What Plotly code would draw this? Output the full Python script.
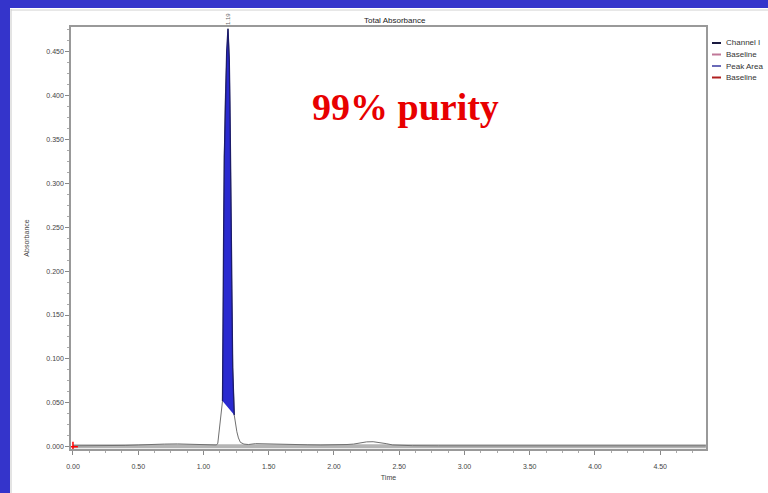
import plotly.graph_objects as go

# Chromatogram trace (time in minutes, absorbance)
time = [0.00, 0.10, 0.20, 0.30, 0.40, 0.50, 0.60, 0.70, 0.80, 0.90, 1.00, 1.05,
        1.100, 1.110, 1.120, 1.130, 1.140, 1.146, 1.151, 1.155, 1.160, 1.168,
        1.178, 1.188, 1.198, 1.203, 1.210, 1.216, 1.224, 1.236, 1.245, 1.256,
        1.268, 1.283, 1.310, 1.345, 1.40, 1.50, 1.60, 1.70, 1.80, 1.90, 2.00,
        2.10, 2.15, 2.20, 2.25, 2.30, 2.35, 2.40, 2.45, 2.50, 2.60, 2.80,
        3.00, 3.50, 4.00, 4.50, 4.85]
absorbance = [0.0010, 0.0010, 0.0012, 0.0012, 0.0015, 0.0020, 0.0028, 0.0030,
              0.0032, 0.0030, 0.0025, 0.0020,
              0.002, 0.004, 0.016, 0.028, 0.040, 0.052, 0.120, 0.250, 0.330,
              0.400, 0.450, 0.476, 0.440, 0.390, 0.280, 0.180, 0.090, 0.036,
              0.026, 0.017, 0.010, 0.005, 0.003, 0.0025,
              0.0035, 0.0030, 0.0028, 0.0025, 0.0022, 0.0020, 0.0020, 0.0025,
              0.0030, 0.0045, 0.0055, 0.0057, 0.0050, 0.0035, 0.0020, 0.0015,
              0.0012, 0.0010, 0.0010, 0.0010, 0.0010, 0.0010, 0.0010]

# Integrated peak limits
peak_start = 1.146
peak_end = 1.236
peak_apex = 1.188

baseline_time = [0.00, 4.85]
baseline_abs = [0.0005, 0.0005]

x_ticks = [0.0, 0.5, 1.0, 1.5, 2.0, 2.5, 3.0, 3.5, 4.0, 4.5]
y_ticks = [0.000, 0.050, 0.100, 0.150, 0.200, 0.250, 0.300, 0.350, 0.400, 0.450]

legend_names = ["Channel I", "Baseline", "Peak Area", "Baseline"]
legend_colors = ["#1a1a40", "#c07898", "#6a6ab8", "#b02020"]

peak_t = [t for t in time if peak_start <= t <= peak_end]
peak_a = [a for t, a in zip(time, absorbance) if peak_start <= t <= peak_end]

fig = go.Figure()

fig.add_trace(go.Scatter(x=baseline_time, y=baseline_abs, mode="lines",
                         line=dict(color="#b4b4b4", width=4), hoverinfo="skip"))
fig.add_trace(go.Scatter(x=time, y=absorbance, mode="lines",
                         line=dict(color="#707070", width=1)))
fig.add_trace(go.Scatter(x=peak_t, y=peak_a, mode="lines", fill="toself",
                         fillcolor="#2a2ad0", line=dict(color="#1c1c6a", width=1.3)))
fig.add_trace(go.Scatter(x=[0], y=[0], mode="markers",
                         marker=dict(symbol="cross-thin", size=7,
                                     line=dict(color="red", width=1.5))))

# Blue frame strips and panel border
fig.add_shape(type="rect", xref="paper", yref="paper", x0=-0.2, x1=(10 - 71) / 635,
              y0=-0.2, y1=1.2, fillcolor="#3434cb", line_width=0, layer="below")
fig.add_shape(type="rect", xref="paper", yref="paper", x0=-0.2, x1=1.2,
              y0=(449 - 8) / 422, y1=1.2, fillcolor="#3434cb", line_width=0, layer="below")
fig.add_shape(type="line", xref="paper", yref="paper", x0=(11 - 71) / 635, x1=(11 - 71) / 635,
              y0=-0.2, y1=(449 - 9) / 422, line=dict(color="#c8c8c8", width=1))
fig.add_shape(type="line", xref="paper", yref="paper", x0=(11 - 71) / 635, x1=1.2,
              y0=(449 - 10) / 422, y1=(449 - 10) / 422, line=dict(color="#d0d0d0", width=1))

annotations = [
    dict(text="Total Absorbance", x=0.510, y=(449 - 20) / 422, xref="paper", yref="paper",
         xanchor="center", yanchor="middle", showarrow=False,
         font=dict(family="Liberation Sans", size=8, color="#222")),
    dict(text="<b>99% purity</b>", x=0.526, y=(449 - 107) / 422, xref="paper", yref="paper",
         xanchor="center", yanchor="middle", showarrow=False,
         font=dict(family="Liberation Serif", size=38, color="#e80000")),
    dict(text="%.2f" % peak_apex, x=peak_apex, y=1.0, xref="x", yref="paper",
         xanchor="center", yanchor="bottom", textangle=-90, showarrow=False,
         font=dict(family="Liberation Sans", size=6, color="#666")),
]
# Legend drawn by hand: short coloured line plus label, clipped at the right edge
for i, (name, color) in enumerate(zip(legend_names, legend_colors)):
    row_y = (449 - 43 - 11.5 * i) / 422
    fig.add_shape(type="line", xref="paper", yref="paper",
                  x0=(712 - 71) / 635, x1=(721 - 71) / 635, y0=row_y, y1=row_y,
                  line=dict(color=color, width=2))
    annotations.append(dict(
        text=name, x=(724 - 71) / 635, y=row_y, xref="paper", yref="paper",
        xanchor="left", yanchor="middle", showarrow=False,
        font=dict(family="Liberation Sans", size=8, color="#333")))

fig.update_layout(
    width=768, height=493,
    margin=dict(l=71, r=62, t=27, b=44),
    paper_bgcolor="white", plot_bgcolor="white",
    showlegend=False,
    annotations=annotations,
    font=dict(family="Liberation Sans", size=7, color="#444"),
)
fig.update_xaxes(range=[-0.015, 4.851], tickvals=x_ticks,
                 ticktext=[f"{v:.2f}" for v in x_ticks],
                 showgrid=False, zeroline=False, showline=True, mirror=True,
                 linecolor="#999", linewidth=2, ticks="outside", ticklen=4, tickcolor="#888",
                 ticklabelstandoff=6,
                 minor=dict(dtick=0.125, ticks="outside", ticklen=2, tickcolor="#aaa"),
                 title=dict(text="Time", font=dict(size=7, color="#444"), standoff=6))
fig.update_yaxes(range=[-0.0026, 0.478], tickvals=y_ticks,
                 ticktext=[f"{v:.3f}" for v in y_ticks],
                 showgrid=False, zeroline=False, showline=True, mirror=True,
                 linecolor="#999", linewidth=1.5, ticks="outside", ticklen=4, tickcolor="#888",
                 minor=dict(dtick=0.0125, ticks="outside", ticklen=2, tickcolor="#aaa"),
                 title=dict(text="Absorbance", font=dict(size=7, color="#444"), standoff=16))

# Drop the default page margin so the figure fills the window
fig.write_html("out.html", config={"displayModeBar": False},
               post_script="document.body.style.margin='0';")
